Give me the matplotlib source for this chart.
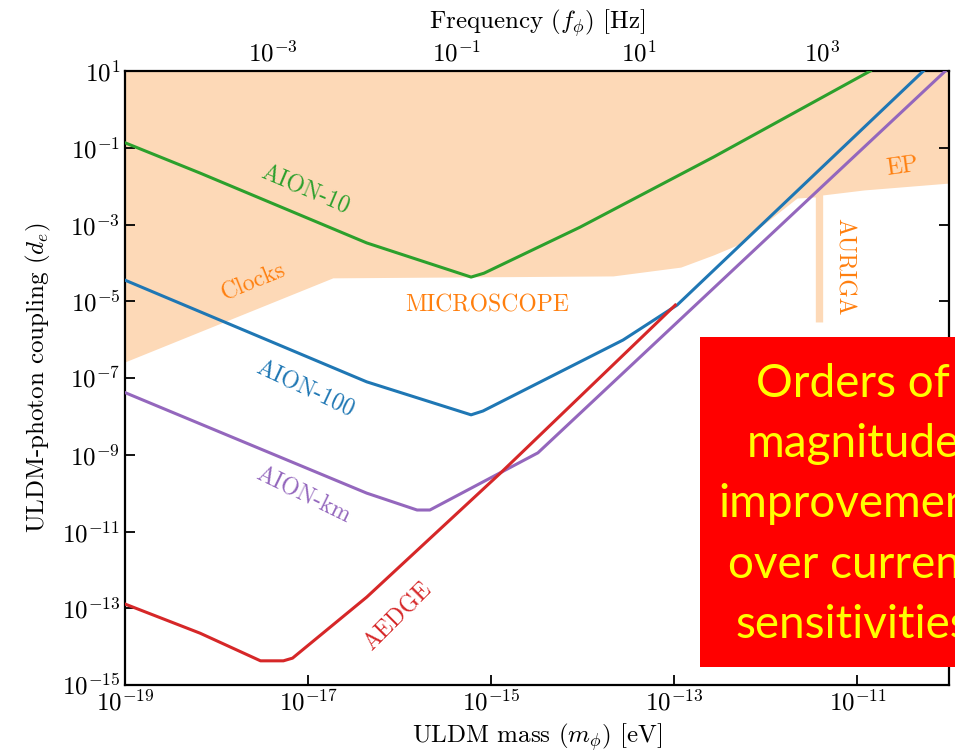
import numpy as np
import matplotlib
matplotlib.use("Agg")
import matplotlib.pyplot as plt
from matplotlib.ticker import FixedLocator, LogFormatterMathtext, NullLocator
from matplotlib.patches import Rectangle

plt.rcParams["font.family"] = ["cmr10"]
plt.rcParams["mathtext.fontset"] = "cm"
plt.rcParams["axes.formatter.use_mathtext"] = True
plt.rcParams["font.size"] = 18

# ---- sensitivity curves (log10 mass [eV], log10 coupling d_e) ----
aion10_logm = [-19.0, -18.18, -16.36, -15.22, -15.08, -14.03, -12.57, -10.86]
aion10_logd = [-0.87, -1.66, -3.48, -4.37, -4.27, -3.07, -1.24, 1.0]

aion100_logm = [-19.0, -16.36, -15.22, -15.09, -13.56, -12.97, -10.28]
aion100_logd = [-4.45, -7.10, -7.96, -7.86, -6.01, -5.10, 1.0]

aionkm_logm = [-19.0, -16.36, -15.81, -15.67, -14.49, -10.04]
aionkm_logd = [-7.38, -10.0, -10.44, -10.44, -8.95, 1.0]

aedge_logm = [-19.0, -18.18, -17.52, -17.27, -17.17, -16.36, -14.90, -12.99]
aedge_logd = [-12.89, -13.65, -14.37, -14.37, -14.30, -12.71, -9.48, -5.10]

# ---- excluded region: clocks, MICROSCOPE, AURIGA, EP (lower edge) ----
excl_logm = [-19.0, -16.73, -13.67, -12.93, -12.57, -12.31, -11.66, -11.46,
             -11.46, -11.38, -11.38, -10.93, -10.0]
excl_logd = [-6.58, -4.39, -4.34, -4.11, -3.79, -3.53, -2.31, -2.28,
             -5.54, -5.54, -2.23, -2.10, -1.92]

EV_TO_HZ = 1.0 / 4.1357e-15

fig = plt.figure(figsize=(9.55, 7.52), dpi=100)
ax = fig.add_axes([125 / 955, 1 - 685 / 752, (949 - 125) / 955, (685 - 71) / 752])
ax.set_xscale("log")
ax.set_yscale("log")
ax.set_xlim(1e-19, 1e-10)
ax.set_ylim(1e-15, 1e1)

shade = "#fdd9b7"
m_ex = 10.0 ** np.array(excl_logm)
d_ex = 10.0 ** np.array(excl_logd)
ax.fill_between(m_ex, d_ex, 1e2, color=shade, lw=0, zorder=1)

lw = 2.2
ax.plot(10.0 ** np.array(aion10_logm), 10.0 ** np.array(aion10_logd), color="#2ca02c", lw=lw, zorder=3)
ax.plot(10.0 ** np.array(aion100_logm), 10.0 ** np.array(aion100_logd), color="#1f77b4", lw=lw, zorder=3)
ax.plot(10.0 ** np.array(aionkm_logm), 10.0 ** np.array(aionkm_logd), color="#9467bd", lw=lw, zorder=3)
ax.plot(10.0 ** np.array(aedge_logm), 10.0 ** np.array(aedge_logd), color="#d62728", lw=lw, zorder=4)

orange = "#ff7f0e"
lab = dict(ha="center", va="center", fontsize=17, rotation_mode="anchor", zorder=5)
ax.text(10 ** -17.03, 10 ** -2.10, "AION-10", color="#2ca02c", rotation=-23, **lab)
ax.text(10 ** -17.04, 10 ** -7.29, "AION-100", color="#1f77b4", rotation=-25, **lab)
ax.text(10 ** -17.05, 10 ** -10.07, "AION-km", color="#9467bd", rotation=-26, **lab)
ax.text(10 ** -16.02, 10 ** -13.23, "AEDGE", color="#d62728", rotation=45, **lab)
ax.text(10 ** -17.60, 10 ** -4.50, "Clocks", color=orange, rotation=22, **lab)
ax.text(10 ** -15.04, 10 ** -5.10, "MICROSCOPE", color=orange, rotation=0, **lab)
ax.text(10 ** -10.51, 10 ** -1.50, "EP", color=orange, rotation=8, **lab)
ax.text(10 ** -11.15, 10 ** -4.11, "AURIGA", color=orange, rotation=-90, **lab)

# axes styling
ax.xaxis.set_major_locator(FixedLocator([1e-19, 1e-17, 1e-15, 1e-13, 1e-11]))
ax.yaxis.set_major_locator(FixedLocator([10.0 ** k for k in range(-15, 2, 2)]))
ax.xaxis.set_minor_locator(NullLocator())
ax.yaxis.set_minor_locator(NullLocator())
ax.xaxis.set_major_formatter(LogFormatterMathtext())
ax.yaxis.set_major_formatter(LogFormatterMathtext())
ax.tick_params(which="both", direction="in", length=7, width=1.3, top=False, right=True,
               labelsize=18)
for s in ax.spines.values():
    s.set_linewidth(1.6)

ax.set_xlabel(r"ULDM mass ($m_\phi$) [eV]", fontsize=18, labelpad=4)
ax.set_ylabel(r"ULDM-photon coupling ($d_e$)", fontsize=18, labelpad=6)

sec = ax.secondary_xaxis("top", functions=(lambda m: m * EV_TO_HZ, lambda f: f / EV_TO_HZ))
sec.xaxis.set_major_locator(FixedLocator([1e-3, 1e-1, 1e1, 1e3]))
sec.xaxis.set_minor_locator(NullLocator())
sec.xaxis.set_major_formatter(LogFormatterMathtext())
sec.tick_params(direction="in", length=7, width=1.3, labelsize=18)
sec.set_xlabel(r"Frequency ($f_\phi$) [Hz]", fontsize=18, labelpad=8)

# callout box
fig.patches.append(Rectangle((700 / 955, 1 - 667 / 752), 300 / 955, (667 - 337) / 752,
                             transform=fig.transFigure, facecolor="#ff0000",
                             edgecolor="none", zorder=10))
callout = ["Orders of", "magnitude", "improvement", "over current", "sensitivities"]
baselines = [397, 457, 517, 578, 638]
for line, yb in zip(callout, baselines):
    fig.text(853 / 955, 1 - yb / 752, line, ha="center", va="baseline", color="#ffff00",
             fontsize=33, family=["Lato", "DejaVu Sans"], zorder=11)

fig.savefig("out.png", dpi=100)
